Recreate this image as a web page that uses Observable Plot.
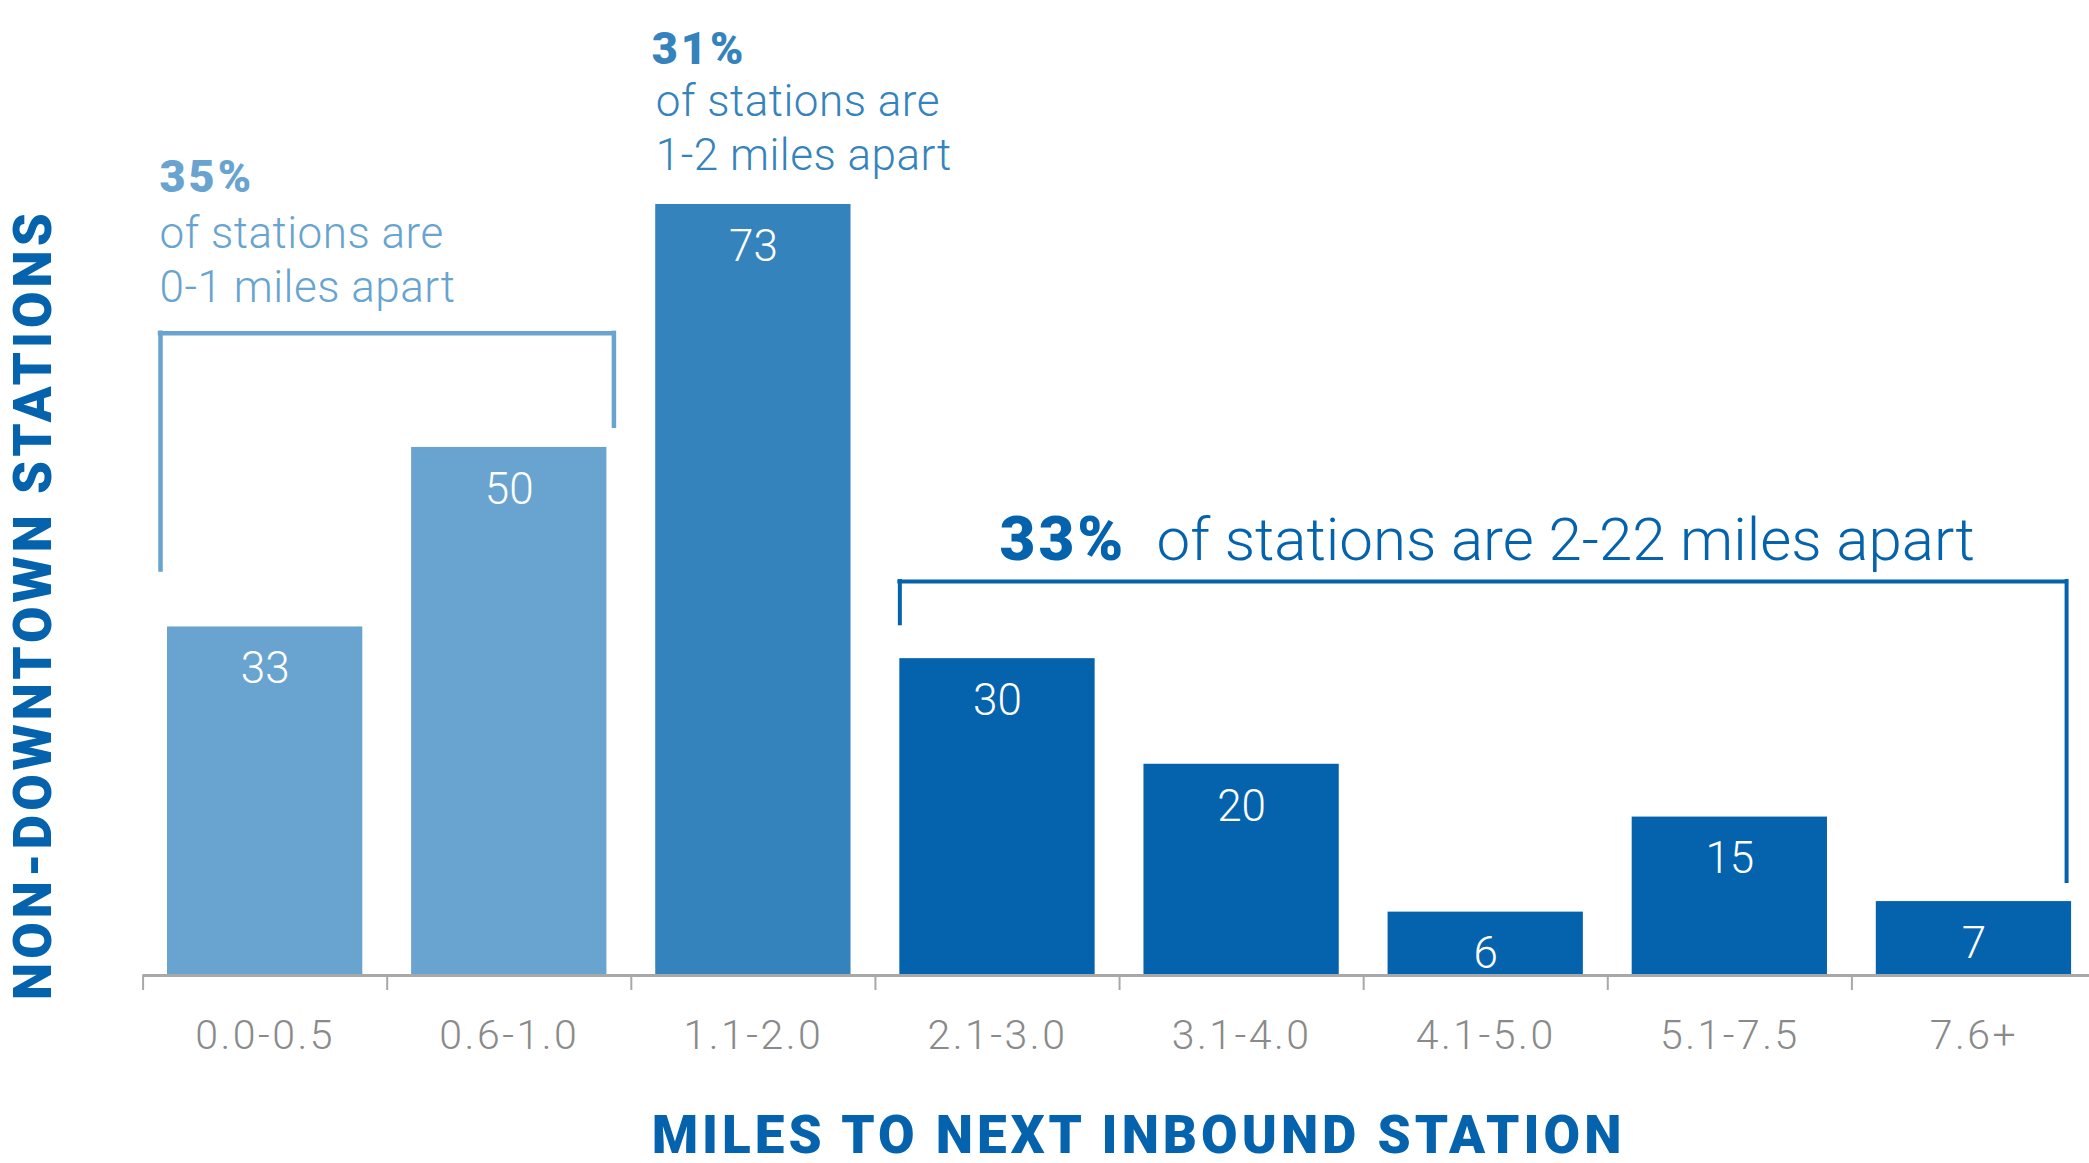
<!DOCTYPE html>
<html>
<head>
<meta charset="utf-8">
<script src="https://cdn.jsdelivr.net/npm/d3@7"></script>
<script src="https://cdn.jsdelivr.net/npm/@observablehq/plot@0.6"></script>
<style>
  html, body { margin: 0; padding: 0; background: #fff; overflow: hidden; }
  #chart svg { display: block; }
</style>
</head>
<body>
<div id="chart"></div>
<script>
// ---- data ----
const categories = ["0.0-0.5", "0.6-1.0", "1.1-2.0", "2.1-3.0", "3.1-4.0", "4.1-5.0", "5.1-7.5", "7.6+"];
const stations = [33, 50, 73, 30, 20, 6, 15, 7];
const groups = ["0-1", "0-1", "1-2", "2-22", "2-22", "2-22", "2-22", "2-22"];
const groupNames = ["0-1", "1-2", "2-22"];
const groupColors = ["#68a4cf", "#3583bd", "#0563ad"];

const xTitle = "MILES TO NEXT INBOUND STATION";
const yTitle = "NON-DOWNTOWN STATIONS";

// annotations (share text per group)
const annoShare = ["35%", "31%", "33%"];
const annoText = ["of stations are\n0-1 miles apart", "of stations are\n1-2 miles apart", "of stations are 2-22 miles apart"];
const annoAnchor = ["0.0-0.5", "1.1-2.0", "2.1-3.0"];
const annoShareY = [74.2, 86.3, 39.3];
const annoTextY = [63.8, 76.3, 39.3];

// brackets
const bracketGroup = ["0-1", "2-22"];
const bracketFrom = ["0.0-0.5", "2.1-3.0"];
const bracketTo = ["0.6-1.0", "7.6+"];
const bracketTop = [60.8, 37.3];
const bracketLeftEnd = [38.4, 33.3];
const bracketRightEnd = [52.0, 8.9];

// ---- build ----
const data = categories.map((c, i) => ({category: c, value: stations[i], group: groups[i]}));
const annos = annoShare.map((s, i) => ({share: s, text: annoText[i], anchor: annoAnchor[i], group: groupNames[i], shareY: annoShareY[i], textY: annoTextY[i]}));
const brackets = bracketFrom.map((f, i) => ({from: f, to: bracketTo[i], group: bracketGroup[i], top: bracketTop[i], leftEnd: bracketLeftEnd[i], rightEnd: bracketRightEnd[i]}));

const W = 2089, H = 1163;
const X0 = 142.6, X1 = 2095.5, PI = 0.2, PO = 0.1;
const step = (X1 - X0) / (categories.length - PI + 2 * PO);
const bw = step * (1 - PI);
const marginTop = 204, marginBottom = 188;
const baseY = H - marginBottom;

const blue = "#0563ad";
const axisGray = "#a8a8a8";

// bracket style per bracket: outsets in px beyond bar edges
const bracketOutset = [[7, 7], [0, -5]];
const bracketStroke = [4.5, 4];

const bracketMarks = brackets.flatMap((b, i) => {
  const [oL, oR] = bracketOutset[i];
  const common = {stroke: "group", strokeWidth: bracketStroke[i], strokeLinecap: "square"};
  return [
    Plot.ruleY([b], {y: "top", x1: "from", x2: "to", insetLeft: -oL, insetRight: -oR, ...common}),
    Plot.ruleX([b], {x: "from", y1: "leftEnd", y2: "top", dx: -bw / 2 - oL, ...common}),
    Plot.ruleX([b], {x: "to", y1: "rightEnd", y2: "top", dx: bw / 2 + oR, ...common})
  ];
});

const annoMarks = [
  // 0-1 group
  Plot.text([annos[0]], {x: "anchor", y: "shareY", text: "share", fill: "group", textAnchor: "start", lineAnchor: "bottom", dx: -bw / 2 - 8, fontSize: 45, fontWeight: 900}),
  Plot.text([annos[0]], {x: "anchor", y: "textY", text: "text", fill: "group", textAnchor: "start", lineAnchor: "bottom", dx: -bw / 2 - 8, fontSize: 44, fontWeight: 300, lineHeight: 1.21}),
  // 1-2 group
  Plot.text([annos[1]], {x: "anchor", y: "shareY", text: "share", fill: "group", textAnchor: "start", lineAnchor: "bottom", dx: -bw / 2 - 4, fontSize: 45, fontWeight: 900}),
  Plot.text([annos[1]], {x: "anchor", y: "textY", text: "text", fill: "group", textAnchor: "start", lineAnchor: "bottom", dx: -bw / 2, fontSize: 44, fontWeight: 300, lineHeight: 1.23}),
  // 2-22 group
  Plot.text([annos[2]], {x: "anchor", y: "shareY", text: "share", fill: "group", textAnchor: "start", lineAnchor: "bottom", dx: 2, fontSize: 62, fontWeight: 900}),
  Plot.text([annos[2]], {x: "anchor", y: "textY", text: "text", fill: "group", textAnchor: "start", lineAnchor: "bottom", dx: 159, fontSize: 60, fontWeight: 300})
];

const chart = Plot.plot({
  width: W,
  height: H,
  marginLeft: X0,
  marginRight: 0,
  marginTop,
  marginBottom,
  x: {domain: categories, range: [X0, X1], paddingInner: PI, paddingOuter: PO, align: 0.5, round: false, tickSize: 0, tickPadding: 44, label: null},
  y: {domain: [0, 73], range: [baseY, marginTop], axis: null},
  color: {domain: groupNames, range: groupColors},
  style: {fontFamily: "Roboto, 'Open Sans', sans-serif", fontSize: "41px", fontWeight: 300, color: "#8a8a8a", background: "white", overflow: "visible"},
  marks: [
    Plot.barY(data, {x: "category", y: "value", fill: "group"}),
    Plot.text(data, {x: "category", y: "value", text: d => String(d.value), lineAnchor: "top", dy: 25, fill: "white", fontSize: 44, fontWeight: 300}),
    Plot.ruleY([0], {stroke: axisGray, strokeWidth: 3}),
    Plot.ruleX(categories, {x: d => d, y1: 0, y2: 0, insetBottom: -15, dx: -step / 2, stroke: axisGray, strokeWidth: 2}),
    ...bracketMarks,
    ...annoMarks,
    Plot.text([xTitle], {frameAnchor: "bottom", text: d => d, lineAnchor: "bottom", textAnchor: "middle", dx: 1138 - (X0 + W) / 2, dy: 1152 - baseY, fill: blue, fontSize: 53, fontWeight: 900}),
    Plot.text([yTitle], {frameAnchor: "left", text: d => d, rotate: -90, lineAnchor: "bottom", textAnchor: "middle", dx: 50.6 - X0, dy: 604 - (marginTop + baseY) / 2, fill: blue, fontSize: 53, fontWeight: 900})
  ]
});

const svg = d3.select(chart);
svg.selectAll("text")
  .filter(function () { return this.textContent === xTitle || this.textContent === yTitle; })
  .style("letter-spacing", "4px");
svg.selectAll("text")
  .filter(function () { return annoShare.includes(this.textContent); })
  .style("letter-spacing", "3px");
svg.selectAll("text")
  .filter(function () { return categories.includes(this.textContent); })
  .style("letter-spacing", "2.5px");
svg.selectAll("text tspan, text")
  .filter(function () { return /^(of stations are|0-1 miles apart|1-2 miles apart)/.test(this.textContent) && this.textContent.length < 20; })
  .style("letter-spacing", "0.5px");

document.getElementById("chart").appendChild(chart);
</script>
</body>
</html>
